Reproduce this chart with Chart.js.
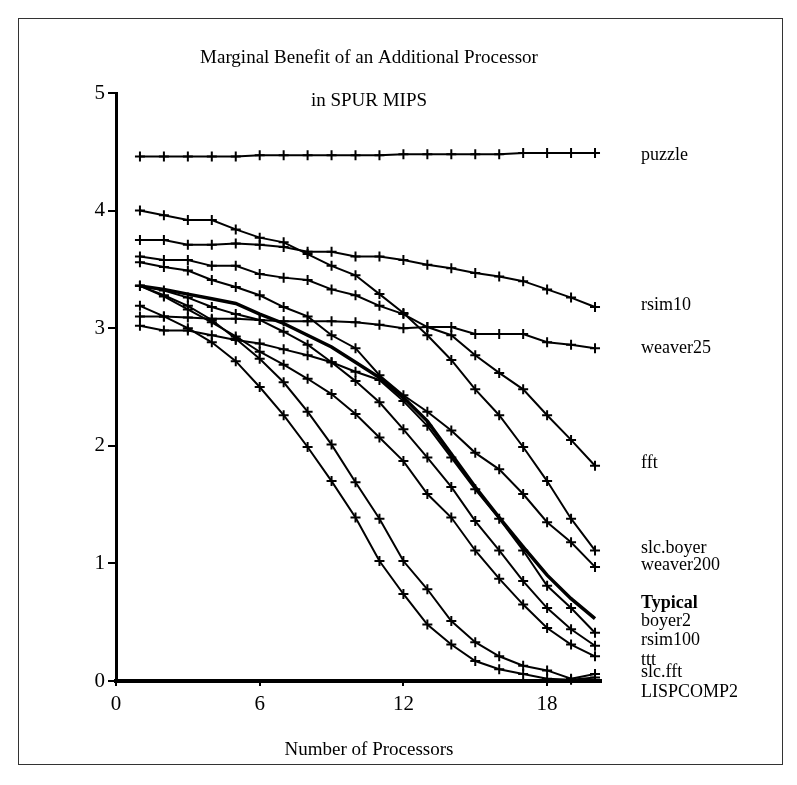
<!DOCTYPE html>
<html>
<head>
<meta charset="utf-8">
<script src="https://cdn.jsdelivr.net/npm/chart.js@4.4.0/dist/chart.umd.min.js"></script>
<style>
html, body { margin: 0; padding: 0; background: #fff; }
#wrap { position: relative; width: 797px; height: 785px; }
#frame { position: absolute; left: 18px; top: 18px; width: 765px; height: 747px; border: 1px solid #333; box-sizing: border-box; pointer-events: none; }
</style>
</head>
<body>
<div id="wrap">
  <canvas id="grafico" width="797" height="785"></canvas>
  <div id="frame"></div>
</div>
<script>
// dados
const processadores = [1, 2, 3, 4, 5, 6, 7, 8, 9, 10, 11, 12, 13, 14, 15, 16, 17, 18, 19, 20]
const puzzle    = [4.46, 4.46, 4.46, 4.46, 4.46, 4.47, 4.47, 4.47, 4.47, 4.47, 4.47, 4.48, 4.48, 4.48, 4.48, 4.48, 4.49, 4.49, 4.49, 4.49]
const rsim10    = [3.75, 3.75, 3.71, 3.71, 3.72, 3.71, 3.69, 3.65, 3.65, 3.61, 3.61, 3.58, 3.54, 3.51, 3.47, 3.44, 3.40, 3.33, 3.26, 3.18]
const weaver25  = [3.10, 3.10, 3.09, 3.08, 3.08, 3.07, 3.06, 3.06, 3.06, 3.05, 3.03, 3.00, 3.01, 3.01, 2.95, 2.95, 2.95, 2.88, 2.86, 2.83]
const fft       = [3.61, 3.58, 3.58, 3.53, 3.53, 3.46, 3.43, 3.41, 3.33, 3.28, 3.19, 3.12, 3.01, 2.94, 2.77, 2.62, 2.48, 2.26, 2.05, 1.83]
const slcBoyer  = [4.00, 3.96, 3.92, 3.92, 3.84, 3.77, 3.73, 3.63, 3.53, 3.45, 3.29, 3.13, 2.94, 2.73, 2.48, 2.26, 1.99, 1.70, 1.38, 1.11]
const weaver200 = [3.56, 3.52, 3.49, 3.41, 3.35, 3.28, 3.18, 3.10, 2.94, 2.83, 2.60, 2.43, 2.29, 2.13, 1.94, 1.80, 1.59, 1.35, 1.18, 0.97]
const typical   = [3.36, 3.33, 3.29, 3.25, 3.21, 3.12, 3.04, 2.94, 2.84, 2.71, 2.58, 2.41, 2.21, 1.93, 1.65, 1.39, 1.14, 0.90, 0.70, 0.53]
const boyer2    = [3.02, 2.98, 2.98, 2.94, 2.90, 2.87, 2.82, 2.77, 2.71, 2.63, 2.56, 2.38, 2.17, 1.90, 1.63, 1.38, 1.11, 0.81, 0.62, 0.41]
const rsim100   = [3.36, 3.32, 3.26, 3.18, 3.12, 3.07, 2.97, 2.86, 2.71, 2.55, 2.37, 2.14, 1.90, 1.65, 1.36, 1.11, 0.85, 0.62, 0.44, 0.30]
const ttt       = [3.36, 3.27, 3.16, 3.05, 2.93, 2.80, 2.69, 2.57, 2.44, 2.27, 2.07, 1.87, 1.59, 1.39, 1.11, 0.87, 0.65, 0.45, 0.31, 0.21]
const slcFft    = [3.36, 3.28, 3.19, 3.07, 2.91, 2.74, 2.54, 2.29, 2.01, 1.69, 1.38, 1.02, 0.78, 0.51, 0.33, 0.21, 0.13, 0.09, 0.02, 0.06]
const lispcomp2 = [3.19, 3.10, 3.00, 2.88, 2.72, 2.50, 2.26, 1.99, 1.70, 1.39, 1.02, 0.74, 0.48, 0.31, 0.17, 0.10, 0.06, 0.02, 0.01, 0.03]

const nomes = ['puzzle', 'rsim10', 'weaver25', 'fft', 'slc.boyer', 'weaver200', 'Typical', 'boyer2', 'rsim100', 'ttt', 'slc.fft', 'LISPCOMP2']
const series = [puzzle, rsim10, weaver25, fft, slcBoyer, weaver200, typical, boyer2, rsim100, ttt, slcFft, lispcomp2]
const xTicks = [0, 6, 12, 18]
const yTicks = [0, 1, 2, 3, 4, 5]
const titulo = ['Marginal Benefit of an Additional Processor', 'in SPUR MIPS']
const tituloX = 'Number of Processors'

// posição vertical (px) dos nomes à direita
const posNomes = [155, 305, 348, 463, 548, 565, 603, 621, 640, 660, 672, 692]

const fonte = '"Liberation Serif", "Times New Roman", serif'

function serie(nome, valores) {
    const tipica = nome === 'Typical'
    return {
        label: nome,
        data: valores.map((v, i) => ({ x: processadores[i], y: v })),
        borderColor: '#000',
        backgroundColor: '#000',
        borderWidth: tipica ? 3.5 : 2,
        pointStyle: 'cross',
        pointRadius: tipica ? 0 : 5,
        pointHoverRadius: 0,
        pointBorderWidth: 2,
        tension: 0,
        fill: false,
        clip: false
    }
}

const textos = {
    id: 'textos',
    afterDraw(chart) {
        const ctx = chart.ctx
        ctx.save()
        ctx.fillStyle = '#000'
        ctx.textBaseline = 'middle'
        ctx.textAlign = 'center'
        ctx.font = `19px ${fonte}`
        ctx.fillText(titulo[0], 369, 58)
        ctx.fillText(titulo[1], 369, 101)
        ctx.fillText(tituloX, 369, 750)
        ctx.textAlign = 'left'
        nomes.forEach((n, i) => {
            ctx.font = (n === 'Typical' ? 'bold ' : '') + `18px ${fonte}`
            ctx.fillText(n, 641, posNomes[i])
        })
        ctx.restore()
    }
}

new Chart(document.getElementById('grafico').getContext('2d'), {
    type: 'line',
    data: { datasets: nomes.map((n, i) => serie(n, series[i])) },
    options: {
        responsive: false,
        animation: false,
        events: [],
        layout: { padding: { left: 0, right: 196, top: 93, bottom: 0 } },
        plugins: { legend: { display: false }, tooltip: { enabled: false }, title: { display: false } },
        scales: {
            x: {
                type: 'linear',
                min: 0,
                max: 20.25,
                afterBuildTicks: s => { s.ticks = xTicks.map(v => ({ value: v })) },
                afterFit: s => { s.height = 104 },
                ticks: { color: '#000', font: { family: fonte, size: 21 }, padding: 6, maxRotation: 0 },
                grid: { drawOnChartArea: false, drawTicks: true, tickLength: 5, color: '#000', lineWidth: 2 },
                border: { color: '#000', width: 4 }
            },
            y: {
                min: 0,
                max: 5,
                afterBuildTicks: s => { s.ticks = yTicks.map(v => ({ value: v })) },
                afterFit: s => { s.width = 116 },
                ticks: { color: '#000', font: { family: fonte, size: 21 }, padding: 3 },
                grid: { drawOnChartArea: false, drawTicks: true, tickLength: 8, color: '#000', lineWidth: 2 },
                border: { color: '#000', width: 3 }
            }
        }
    },
    plugins: [textos]
})
</script>
</body>
</html>
